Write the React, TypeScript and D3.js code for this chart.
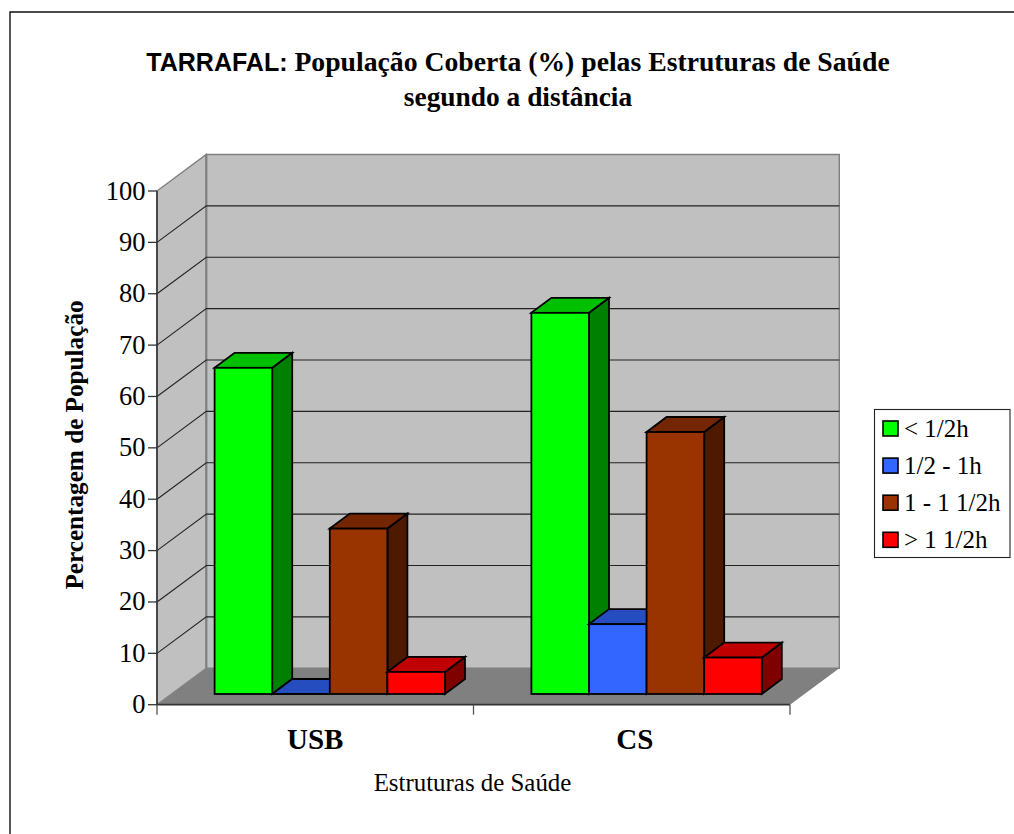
import React from "react";
import * as d3 from "d3";

const categories = ["USB", "CS"];
const seriesNames = ["< 1/2h", "1/2 - 1h", "1 - 1 1/2h", "> 1 1/2h"];
const under30 = [63.5, 74.2];
const to1h = [0, 13.6];
const to90 = [32.2, 51];
const over90 = [4.3, 7.1];
const seriesValues = [under30, to1h, to90, over90];
const ticks = d3.range(0, 101, 10);
const frontColors = ["#00ff00", "#3366ff", "#993300", "#ff0000"];
const topColors = ["#00c000", "#264dbf", "#732600", "#c00000"];
const sideColors = ["#008000", "#1a3380", "#4d1a00", "#800000"];

const SERIF = "'Liberation Serif', serif";
const SANS = "'Liberation Sans', sans-serif";

const pts = (a: number[][]) => a.map((p) => p.join(",")).join(" ");

export default function App() {
  const y = d3.scaleLinear().domain([0, 100]).range([704.7, 191]);
  const x = d3.scaleBand<string>().domain(categories).range([157, 790]);
  const depth = { dx: 49.3, dy: -36.5 };
  const bar = { dx: 20, dy: -15, w: 57.6, base: -10.7 };
  const x0 = 157, x1 = 790, yB = y(0), yT = y(100);
  const backL = x0 + depth.dx, backR = x1 + depth.dx;
  return (
    <svg width={1014} height={834} style={{ position: "absolute", left: 0, top: 0, background: "#fff" }}>
      <path d="M1014,12 H10 V834" fill="none" stroke="#111" strokeWidth={1.4} />
      <text x={518} y={71} textAnchor="middle" fontFamily={SERIF} fontWeight="bold" fontSize={27.7} fill="#000">
        <tspan fontFamily={SANS} fontSize={25}>TARRAFAL:</tspan> População Coberta (%) pelas Estruturas de Saúde
      </text>
      <text x={518} y={106} textAnchor="middle" fontFamily={SERIF} fontWeight="bold" fontSize={27.4} fill="#000">
        segundo a distância
      </text>

      <polygon points={pts([[backL, yT + depth.dy], [backR, yT + depth.dy], [backR, yB + depth.dy], [backL, yB + depth.dy]])} fill="#c0c0c0" stroke="#808080" strokeWidth={1.4} />
      <polygon points={pts([[x0, yT], [backL, yT + depth.dy], [backL, yB + depth.dy], [x0, yB]])} fill="#c0c0c0" stroke="#808080" strokeWidth={1.4} />
      <polygon points={pts([[x0, yB], [backL, yB + depth.dy], [backR, yB + depth.dy], [x1, yB]])} fill="#808080" />
      <line x1={backL} x2={backL} y1={yT + depth.dy} y2={yB + depth.dy} stroke="#808080" strokeWidth={2.2} />

      {ticks.filter((t) => t > 0 && t < 100).map((t) => (
        <polyline key={t} points={pts([[x0, y(t)], [backL, y(t) + depth.dy], [backR, y(t) + depth.dy]])} fill="none" stroke="#222" strokeWidth={1.1} />
      ))}

      {categories.map((c, ci) =>
        seriesValues.map((vals, si) => {
          const left = (x(c) as number) + bar.w + si * bar.w + (ci ? 0.3 : 0);
          const l = left, r = left + bar.w;
          const b = yB + bar.base;
          const t = b - (yB - y(vals[ci]));
          return (
            <g key={c + si} stroke="#000" strokeWidth={1.8} strokeLinejoin="miter">
              <polygon points={pts([[r, t], [r + bar.dx, t + bar.dy], [r + bar.dx, b + bar.dy], [r, b]])} fill={sideColors[si]} />
              <polygon points={pts([[l, t], [l + bar.dx, t + bar.dy], [r + bar.dx, t + bar.dy], [r, t]])} fill={topColors[si]} />
              <rect x={l} y={t} width={bar.w} height={b - t} fill={frontColors[si]} />
            </g>
          );
        })
      )}

      <line x1={x0} x2={x0} y1={yT} y2={yB} stroke="#333" strokeWidth={1.6} />
      <line x1={x0} x2={x1} y1={yB} y2={yB} stroke="#333" strokeWidth={1.8} />
      {ticks.map((t) => (
        <g key={t}>
          <line x1={x0 - 9} x2={x0} y1={y(t)} y2={y(t)} stroke="#333" strokeWidth={1.3} />
          <text x={145.5} y={y(t) + 8.5} textAnchor="end" fontFamily={SERIF} fontSize={26.5} fill="#000">{t}</text>
        </g>
      ))}
      {[x0, x0 + x.bandwidth(), x1].map((v) => (
        <line key={v} x1={v} x2={v} y1={yB} y2={yB + 10} stroke="#555" strokeWidth={1.3} />
      ))}
      {categories.map((c, i) => (
        <text key={c} x={(x(c) as number) + x.bandwidth() / 2 + (i ? 3 : 0)} y={749} textAnchor="middle" fontFamily={SERIF} fontWeight="bold" fontSize={29} fill="#000">{c}</text>
      ))}
      <text x={472.5} y={791} textAnchor="middle" fontFamily={SERIF} fontSize={24.9} fill="#000">Estruturas de Saúde</text>
      <text transform="translate(83,445) rotate(-90)" textAnchor="middle" fontFamily={SERIF} fontWeight="bold" fontSize={25.2} fill="#000">Percentagem de População</text>

      <rect x={874.5} y={409.5} width={135.5} height={148} fill="#fff" stroke="#222" strokeWidth={1.1} />
      {seriesNames.map((n, i) => (
        <g key={n}>
          <rect x={883} y={421 + i * 37.1} width={15} height={15} fill={frontColors[i]} stroke="#000" strokeWidth={1.6} />
          <text x={904} y={436.5 + i * 37.1} fontFamily={SERIF} fontSize={25} fill="#000">{n}</text>
        </g>
      ))}
    </svg>
  );
}
